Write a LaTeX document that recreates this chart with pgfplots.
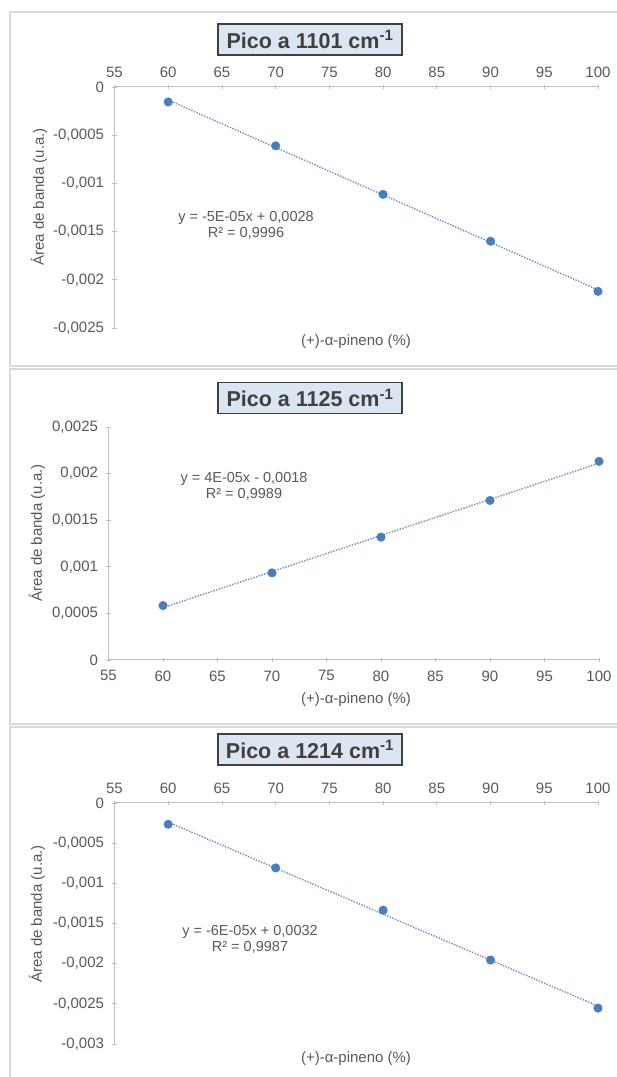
\documentclass[border=0pt]{standalone}
\usepackage{pgfplots}
\pgfplotsset{compat=1.18}
\usepackage{pgfplotstable}
\usepackage{fontspec}
\setmainfont{Liberation Sans}
\definecolor{pt}{HTML}{4A7EBB}
\definecolor{tl}{HTML}{6F8FBF}
\definecolor{ax}{HTML}{BFBFBF}
\definecolor{txt}{HTML}{595959}
\definecolor{ttl}{HTML}{404040}
\definecolor{ttlfill}{HTML}{DCE6F2}
\definecolor{frm}{HTML}{DADADA}

\pgfplotstableread{
x y
60 -0.000155
70 -0.00061
80 -0.001114
90 -0.0016
100 -0.00212
}\tA
\pgfplotstableread{
x y
60 0.000584
70 0.000935
80 0.001318
90 0.001712
100 0.002131
}\tB
\pgfplotstableread{
x y
60 -0.000265
70 -0.000808
80 -0.001334
90 -0.001955
100 -0.002553
}\tC

\pgfplotsset{
  panel/.style={
    scale only axis,
    xmin=55, xmax=100, xtick={55,60,...,100},
    axis line style={ax, line width=1pt},
    tick style={ax, line width=0.8pt},
    major tick length=4pt, tick align=center,
    ticklabel style={font=\fontsize{15}{16}\selectfont, text=txt},
    /pgf/number format/assume math mode=true,
    scaled y ticks=false,
    yticklabel style={xshift=-5pt, /pgf/number format/.cd, fixed, precision=4, use comma},
    axis y line*=left,
    clip=false,
  },
  trend/.style={tl, line width=1.4pt, dash pattern=on 1.4pt off 1.4pt},
  pts/.style={only marks, mark=*, mark size=4.3pt, pt, mark options={draw=pt, fill=pt}},
}

\begin{document}
\begin{tikzpicture}
\path[use as bounding box, fill=white] (0pt,0pt) rectangle (617pt,1077pt);
% panel frames
\draw[frm, line width=1.2pt] (618pt,1065pt) -- (10pt,1065pt) -- (10pt,711pt) -- (618pt,711pt);
\draw[frm, line width=1.2pt] (618pt,708pt) -- (10pt,708pt) -- (10pt,353pt) -- (618pt,353pt);
\draw[frm, line width=1.2pt] (618pt,350pt) -- (10pt,350pt) -- (10pt,-2pt);

% Panel 1
\begin{axis}[panel, at={(114.5pt,749pt)}, anchor=south west,
  width=483.5pt, height=241pt,
  ymin=-0.0025, ymax=0,
  ytick={-0.0025,-0.002,-0.0015,-0.001,-0.0005,0},
  axis x line*=top, xticklabel style={yshift=4pt}]
\addplot[pts] table[x=x,y=y]{\tA};
\addplot[trend] table[x=x,y={create col/linear regression={y=y}}]{\tA};
\end{axis}

% Panel 2
\begin{axis}[panel, at={(108.5pt,417pt)}, anchor=south west,
  width=490.5pt, height=233pt,
  ymin=0, ymax=0.0025,
  ytick={0,0.0005,0.001,0.0015,0.002,0.0025},
  axis x line*=bottom, xticklabel style={yshift=-5pt}]
\addplot[pts] table[x=x,y=y]{\tB};
\addplot[trend] table[x=x,y={create col/linear regression={y=y}}]{\tB};
\end{axis}

% Panel 3
\begin{axis}[panel, at={(114.5pt,33pt)}, anchor=south west,
  width=483.5pt, height=241pt,
  ymin=-0.003, ymax=0,
  ytick={-0.003,-0.0025,-0.002,-0.0015,-0.001,-0.0005,0},
  axis x line*=top, xticklabel style={yshift=4pt}]
\addplot[pts] table[x=x,y=y]{\tC};
\addplot[trend] table[x=x,y={create col/linear regression={y=y}}]{\tC};
\end{axis}

% titles
\tikzset{ttlbox/.style={draw=ttl, line width=1.8pt, fill=ttlfill, text=ttl,
  font=\fontsize{21.5}{24}\selectfont\bfseries, minimum width=184pt, minimum height=31pt, inner sep=2pt},
  lab/.style={text=txt, font=\fontsize{15}{16}\selectfont},
  eq/.style={text=txt, font=\fontsize{14.5}{15.5}\selectfont, align=center}}
\node[ttlbox] at (310pt,1037.5pt) {Pico a 1101 cm\textsuperscript{-1}};
\node[ttlbox] at (310pt,679pt) {Pico a 1125 cm\textsuperscript{-1}};
\node[ttlbox] at (310pt,327.5pt) {Pico a 1214 cm\textsuperscript{-1}};

% axis labels
\node[lab, rotate=90] at (39pt,880pt) {Área de banda (u.a.)};
\node[lab, rotate=90] at (37pt,544pt) {Área de banda (u.a.)};
\node[lab, rotate=90] at (37pt,163pt) {Área de banda (u.a.)};
\node[lab] at (356pt,735pt) {(+)-α-pineno (\%)};
\node[lab] at (356pt,377pt) {(+)-α-pineno (\%)};
\node[lab] at (356pt,18pt) {(+)-α-pineno (\%)};

% equations
\node[eq] at (246pt,851.5pt) {y = -5E-05x + 0,0028\\R² = 0,9996};
\node[eq] at (244pt,590.5pt) {y = 4E-05x - 0,0018\\R² = 0,9989};
\node[eq] at (250pt,137.5pt) {y = -6E-05x + 0,0032\\R² = 0,9987};
\end{tikzpicture}
\end{document}
